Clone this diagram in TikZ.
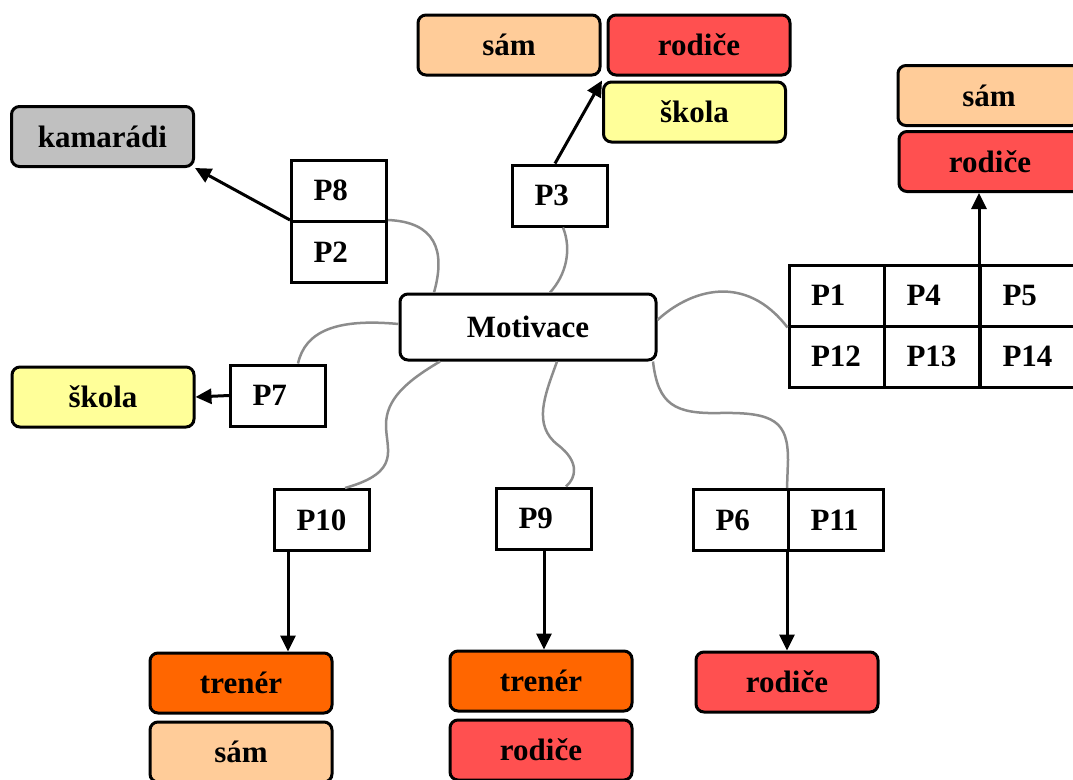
\documentclass[tikz,border=0pt]{standalone}
\usepackage{fontspec}
\setmainfont{Liberation Serif}
\usepackage{tikz}
\usetikzlibrary{arrows.meta}
\usetikzlibrary{calc}
\definecolor{kamgray}{HTML}{C0C0C0}
\definecolor{peach}{HTML}{FFCC99}
\definecolor{rodred}{HTML}{FF5050}
\definecolor{skyellow}{HTML}{FFFF99}
\definecolor{trenorange}{HTML}{FF6600}
\definecolor{linkgray}{HTML}{8C8C8C}
\tikzset{every node/.style={font=\fontsize{31}{36}\selectfont\bfseries},
  cbox/.style={draw, line width=3pt, rounded corners=8pt, minimum width=182pt, minimum height=60pt, inner sep=0pt},
  pcell/.style={draw, fill=white, line width=3pt, minimum height=61pt, text width=51pt, inner xsep=22pt, inner ysep=0pt, align=left},
  link/.style={draw=linkgray, line width=2.5pt},
  arr/.style={line width=3pt, -{Triangle[length=16pt,width=15pt]}}}

\begin{document}
\begin{tikzpicture}[x=1pt,y=-1pt]
    \path[use as bounding box] (0,0) rectangle (1073,779);
    \clip (0,0) rectangle (1073,779);

    \node[cbox,fill=white,minimum width=256pt,minimum height=66pt] at (528,327) (mot) {Motivace};

    \node[cbox,fill=kamgray] at (102.5,136.5) (kam) {kamarádi};
    \node[pcell] at (339,190.5) (P8) {P8};
    \node[pcell] at (339,252) (P2) {P2};

    \node[cbox,fill=peach] at (509,45) (samT) {sám};
    \node[cbox,fill=rodred] at (699,45) (rodT) {rodiče};
    \node[cbox,fill=skyellow] at (694.5,112) (skolaT) {škola};
    \node[pcell] at (560,195.5) (P3) {P3};

    \node[cbox,fill=peach] at (989,95.5) (samR) {sám};
    \node[cbox,fill=rodred] at (990,161.5) (rodR) {rodiče};
    \node[pcell] at (836.5,295.5) (P1) {P1};
    \node[pcell] at (932,295.5) (P4) {P4};
    \node[pcell] at (1028,295.5) (P5) {P5};
    \node[pcell] at (836.5,356.5) (P12) {P12};
    \node[pcell] at (932,356.5) (P13) {P13};
    \node[pcell] at (1028,356.5) (P14) {P14};

    \node[pcell] at (278,395.5) (P7) {P7};
    \node[cbox,fill=skyellow] at (103,397) (skolaL) {škola};

    \node[pcell] at (322,520) (P10) {P10};
    \node[pcell] at (544,518.5) (P9) {P9};
    \node[pcell] at (741,520) (P6) {P6};
    \node[pcell] at (836,520) (P11) {P11};

    \node[cbox,fill=trenorange] at (241,683) (trenA) {trenér};
    \node[cbox,fill=peach] at (241,752) (samB) {sám};
    \node[cbox,fill=trenorange] at (541,681) (trenB) {trenér};
    \node[cbox,fill=rodred] at (541,750) (rodB2) {rodiče};
    \node[cbox,fill=rodred] at (787,682) (rodB) {rodiče};

    % gray links
    \draw[link] (P2.north east) .. controls (435,222) and (446,250) .. ([xshift=-94pt]mot.north);
    \draw[link] ([xshift=3pt]P3.south) .. controls (572,250) and (566,275) .. ([xshift=22pt]mot.north);
    \draw[link] ([yshift=7pt]mot.east) .. controls (690,290) and (745,272) .. (P1.south west);
    \draw[link] ([yshift=3pt]mot.west) .. controls (335,318) and (305,332) .. ([xshift=20pt]P7.north);
    \draw[link] ([xshift=-88pt]mot.south) .. controls (405,382) and (386,400) .. (386,425)
        .. controls (386,450) and (402,472) .. ([xshift=23pt]P10.north);
    \draw[link] ([xshift=29pt]mot.south) .. controls (545,395) and (532,425) .. (558,445)
        .. controls (580,462) and (576,478) .. ([xshift=22pt]P9.north);
    \draw[link] ([xshift=125pt]mot.south) .. controls (658,405) and (675,414) .. (720,413)
        .. controls (775,412) and (788,422) .. (788,460) -- (P11.north west);

    % arrows
    \coordinate (a10) at ([xshift=-34pt]P10.south);
    \draw[arr] (P2.north west) -- (kam.south east);
    \draw[arr] ([xshift=-5pt]P3.north) -- (skolaT.north west);
    \draw[arr] (P7.west) -- (skolaL.east);
    \draw[arr] (P5.north west) -- (P5.north west |- rodR.south);
    \draw[arr] (a10) -- (a10 |- trenA.north);
    \draw[arr] (P9.south) -- (P9.south |- trenB.north);
    \draw[arr] (P11.south west) -- (P11.south west |- rodB.north);
\end{tikzpicture}
\end{document}
